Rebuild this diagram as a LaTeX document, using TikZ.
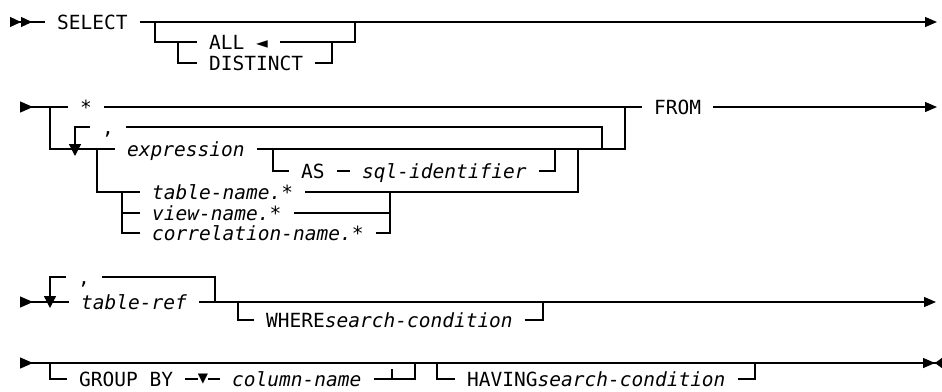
\documentclass[tikz,border=0pt]{standalone}
\usepackage{fontspec}
\setmonofont{DejaVu Sans Mono}
\usetikzlibrary{arrows.meta}
\tikzstyle{word}=[font=\ttfamily\fontsize{19.5}{20}\selectfont, anchor=west, inner xsep=12pt, inner ysep=0pt, text height=14.2pt, text depth=0pt]
\tikzstyle{downmark}=[font=\ttfamily\fontsize{17}{18}\selectfont, inner sep=0pt]
\tikzstyle{rail}=[draw, line width=1.3pt]
\tikzstyle{railfirst}=[rail, {Triangle[reversed,length=11pt,width=10pt] Triangle[reversed,length=11pt,width=10pt]}-]
\tikzstyle{railin}=[rail, {Triangle[reversed,length=13pt,width=11pt]}-]
\tikzstyle{railout}=[rail, -{Triangle[length=12pt,width=10pt]}]
\tikzstyle{raillast}=[rail, -{Triangle[length=12pt,width=10pt] Triangle[reversed,length=7pt,width=10pt]}]
\tikzstyle{raildown}=[rail, -{Triangle[length=12pt,width=12pt]}]

\begin{document}
\begin{tikzpicture}[x=1pt, y=-1pt]
    \useasboundingbox (0,0) rectangle (942,391);

    % junctions and line ends
    \foreach \x/\y/\name in {10/22/r1s, 155/22/j1, 355/22/j2, 937/22/r1e, 178/42/j3, 332/42/j4,
                             20/107/r2s, 50/107/j5, 625/107/j10, 937/107/r2e,
                             97/149/j6, 273/149/j12, 555/149/j13, 578/149/j14, 602/149/j11, 75/156/dn1,
                             122/192/j7, 390/192/j15,
                             20/302/r3s, 50/308/dn2, 215/302/j17, 238/302/j18, 543/302/j19, 936/302/r3e,
                             20/363/r4s, 50/363/j20, 415/363/j21, 437/363/j24, 755/363/j25, 942/363/r4e,
                             392/379/j22, 392/369/j23}
        \coordinate (\name) at (\x,\y);

    % words
    \foreach \x/\y/\name/\txt in {45/22/sel/SELECT, 197/42/all/{ALL ◄}, 197/63/dist/DISTINCT,
                                  68/107/star/*, 642/107/from/FROM, 90/127/comma1/{,},
                                  115/149/expr/\textit{expression}, 289/171/as/AS, 350/171/sqlid/\textit{sql-identifier},
                                  140/192/tbl/\textit{table-name.*}, 140/213/view/\textit{view-name.*},
                                  140/233/corr/\textit{correlation-name.*},
                                  66/277/comma2/{,}, 69/302/tref/\textit{table-ref},
                                  254/320/where/{WHERE\textit{search-condition}},
                                  67/379/grp/{GROUP BY}, 220/379/col/\textit{column-name},
                                  455/379/hav/{HAVING\textit{search-condition}}}
        \node[word] (\name) at (\x,\y) {\txt};
    \node[downmark] (gv) at (203,379) {▼};

    % SELECT
    \path[railfirst] (r1s) -- (sel.west);
    \path[railout] (sel.east) -- (r1e);
    \path[rail] (j1) |- (all.west);
    \path[rail] (all.east) -| (j2);
    \path[rail] (j3) |- (dist.west);
    \path[rail] (dist.east) -| (j4);

    % select list
    \path[railin] (r2s) -- (star.west);
    \path[rail] (star.east) -- (from.west);
    \path[railout] (from.east) -- (r2e);
    \path[rail] (j5) |- (expr.west);
    \path[rail] (expr.east) -| (j10);
    \path[rail] (j11) |- (comma1.east);
    \path[raildown] (comma1.west) -| (dn1);
    \path[rail] (j12) |- (as.west);
    \path[rail] (as.east) -- (sqlid.west);
    \path[rail] (sqlid.east) -| (j13);
    \path[rail] (j6) |- (tbl.west);
    \path[rail] (tbl.east) -| (j14);
    \path[rail] (j7) |- (view.west);
    \path[rail] (j7) |- (corr.west);
    \path[rail] (view.east) -| (j15);
    \path[rail] (corr.east) -| (j15);

    % FROM list
    \path[railin] (r3s) -- (tref.west);
    \path[railout] (tref.east) -- (r3e);
    \path[rail] (j17) |- (comma2.east);
    \path[raildown] (comma2.west) -| (dn2);
    \path[rail] (j18) |- (where.west);
    \path[rail] (where.east) -| (j19);

    % GROUP BY / HAVING
    \path[railin] (r4s) -- (j20);
    \path[raillast] (j20) -- (r4e);
    \path[rail] (j20) |- (grp.west);
    \path[rail] (grp.east) -- (gv) -- (col.west);
    \path[rail] (col.east) -| (j21);
    \path[rail] (j22) -- (j23);
    \path[rail] (j24) |- (hav.west);
    \path[rail] (hav.east) -| (j25);
\end{tikzpicture}
\end{document}
